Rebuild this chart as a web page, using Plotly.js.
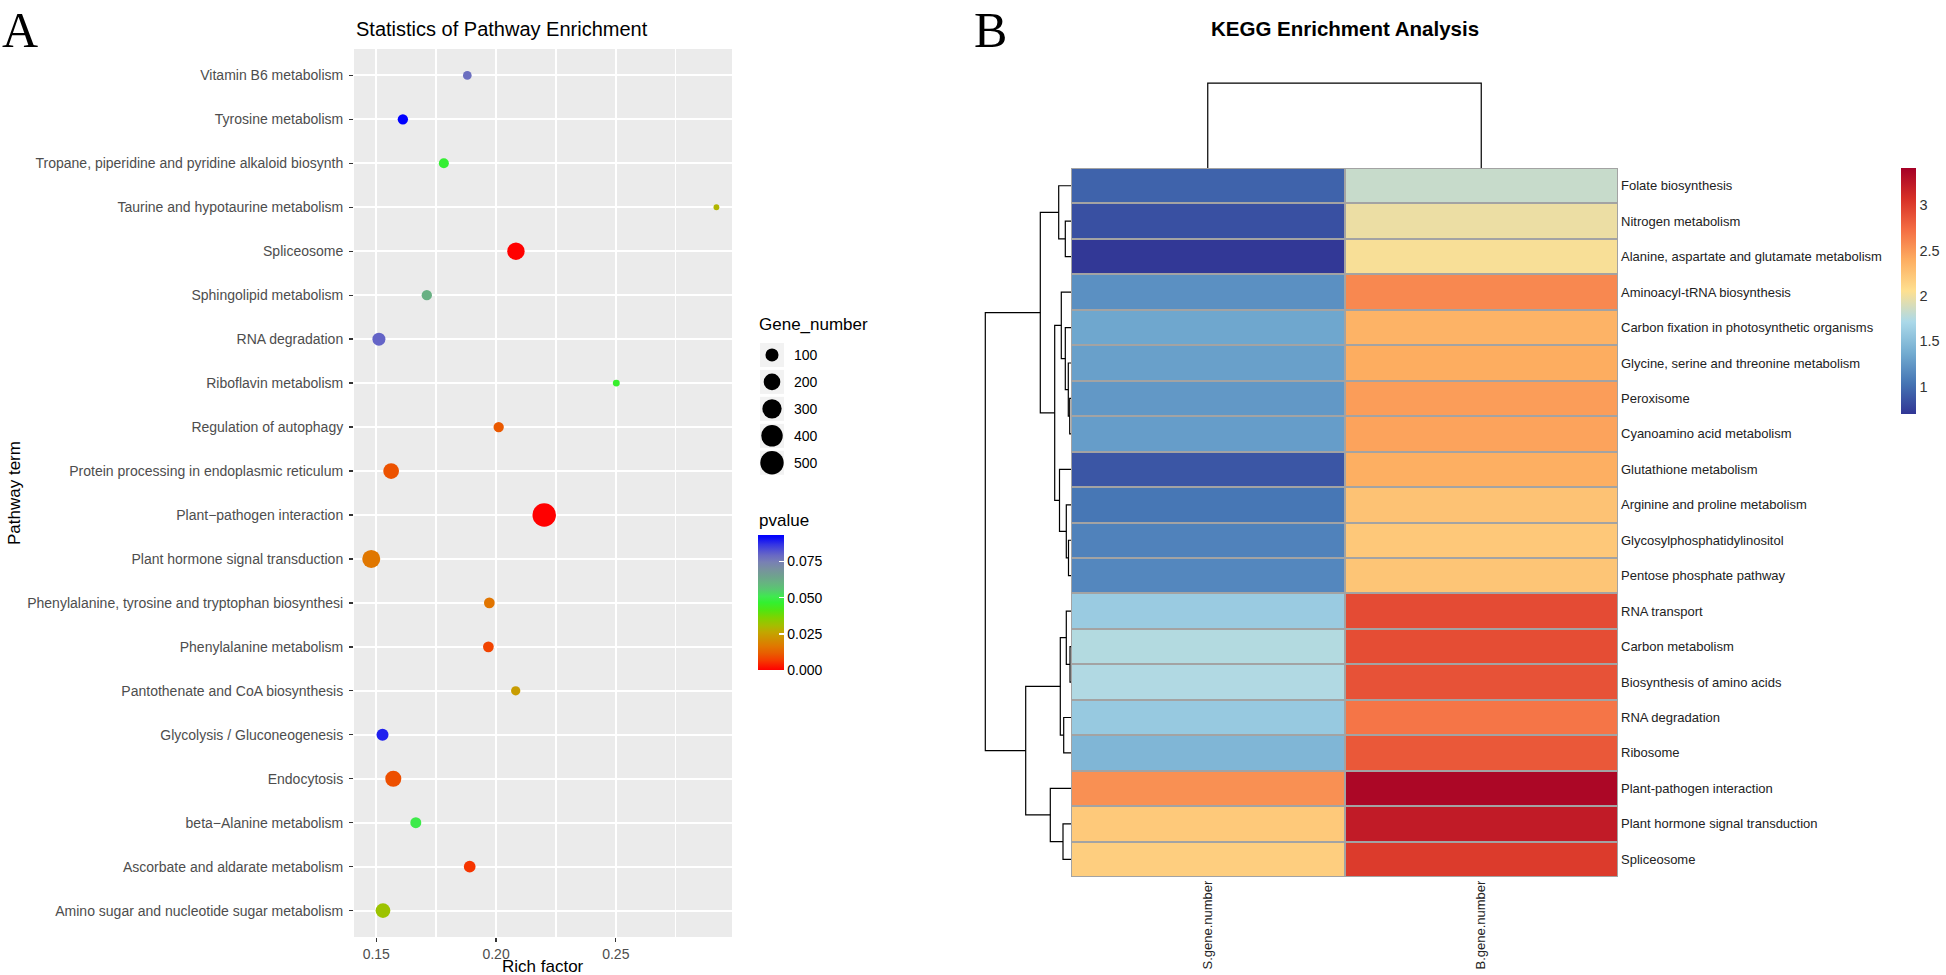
<!DOCTYPE html>
<html>
<head>
<meta charset="utf-8">
<script src="https://cdn.plot.ly/plotly-3.0.1.min.js"></script>
<style>
  html, body { margin: 0; padding: 0; background: #fff; }
  #graph { width: 1946px; height: 975px; }
</style>
</head>
<body>
<div id="graph"></div>
<script>
'use strict';

// ---- panel A: pathway enrichment bubbles (rows top to bottom) ----
var pathTerms = [
  'Vitamin B6 metabolism',
  'Tyrosine metabolism',
  'Tropane, piperidine and pyridine alkaloid biosynth',
  'Taurine and hypotaurine metabolism',
  'Spliceosome',
  'Sphingolipid metabolism',
  'RNA degradation',
  'Riboflavin metabolism',
  'Regulation of autophagy',
  'Protein processing in endoplasmic reticulum',
  'Plant\u2212pathogen interaction',
  'Plant hormone signal transduction',
  'Phenylalanine, tyrosine and tryptophan biosynthesi',
  'Phenylalanine metabolism',
  'Pantothenate and CoA biosynthesis',
  'Glycolysis / Gluconeogenesis',
  'Endocytosis',
  'beta\u2212Alanine metabolism',
  'Ascorbate and aldarate metabolism',
  'Amino sugar and nucleotide sugar metabolism'
];
var richFactor = [0.1880, 0.1611, 0.1782, 0.2920, 0.2083, 0.1711, 0.1511, 0.2502, 0.2011, 0.1562,
                  0.2201, 0.1479, 0.1972, 0.1968, 0.2082, 0.1526, 0.1571, 0.1665, 0.1890, 0.1528];
var geneNumber = [31, 50, 46, 18, 226, 50, 99, 20, 50, 172,
                  505, 252, 56, 56, 37, 78, 181, 60, 73, 142];
var pValue = [0.078, 0.0933, 0.047, 0.029, 0.0001, 0.061, 0.080, 0.046, 0.011, 0.010,
              0.0000, 0.0165, 0.016, 0.008, 0.024, 0.089, 0.0095, 0.050, 0.006, 0.032];
var sizeBreaks = [100, 200, 300, 400, 500];
var pTicks = [0, 0.025, 0.05, 0.075];
var pTickText = ['0.000', '0.025', '0.050', '0.075'];

// ---- panel B: KEGG heatmap (rows top to bottom) ----
var keggTerms = [
  'Folate biosynthesis',
  'Nitrogen metabolism',
  'Alanine, aspartate and glutamate metabolism',
  'Aminoacyl-tRNA biosynthesis',
  'Carbon fixation in photosynthetic organisms',
  'Glycine, serine and threonine metabolism',
  'Peroxisome',
  'Cyanoamino acid metabolism',
  'Glutathione metabolism',
  'Arginine and proline metabolism',
  'Glycosylphosphatidylinositol',
  'Pentose phosphate pathway',
  'RNA transport',
  'Carbon metabolism',
  'Biosynthesis of amino acids',
  'RNA degradation',
  'Ribosome',
  'Plant-pathogen interaction',
  'Plant hormone signal transduction',
  'Spliceosome'
];
var keggCols = ['S.gene.number', 'B.gene.number'];
var sGene = [0.94, 0.84, 0.71, 1.20, 1.34, 1.30, 1.25, 1.28, 0.87, 1.05,
             1.12, 1.15, 1.61, 1.75, 1.74, 1.59, 1.45, 2.55, 2.21, 2.18];
var bGene = [1.83, 1.98, 2.03, 2.59, 2.36, 2.40, 2.48, 2.45, 2.385, 2.26,
             2.22, 2.24, 2.92, 2.91, 2.88, 2.69, 2.85, 3.36, 3.22, 3.01];
var heatMin = 0.70, heatMax = 3.41;
// row tree in hclust style: negative = leaf (1-based row), positive = earlier merge
var rowMerge = [[-7, -8], [-6, 1], [-5, 2], [-4, 3], [-11, -12], [-10, 5], [-9, 6], [4, 7],
                [-2, -3], [-1, 9], [10, 8], [-14, -15], [-13, 12], [-16, -17], [13, 14],
                [-19, -20], [-18, 16], [15, 17], [11, 18]];
var rowHeight = [0.13, 0.27, 0.57, 0.97, 0.25, 0.47, 1.15, 1.63, 0.57, 1.23, 3.07,
                 0.10, 0.47, 0.73, 1.07, 0.80, 2.07, 4.53, 8.57];
var colMerge = [[-1, -2]];
var colHeight = [4.2];
var heatTicks = [1, 1.5, 2, 2.5, 3];

// ---- helpers ----
var W = 1946, H = 975;
function px(x) { return x / W; }
function py(y) { return 1 - y / H; }

var gMin = Math.min.apply(null, geneNumber);
var gMax = Math.max.apply(null, geneNumber);
function dotSize(n) {
  return 5.8 + 17.7 * Math.sqrt(Math.max(0, n - gMin) / (gMax - gMin));
}

function dendro(merge, height) {
  var pos = [], hgt = [], hs = [], ps = [];
  function node(ref) {
    if (ref < 0) return { p: -ref - 1, h: 0 };
    return { p: pos[ref - 1], h: hgt[ref - 1] };
  }
  merge.forEach(function (m, i) {
    var a = node(m[0]), b = node(m[1]), top = height[i];
    hs.push(a.h, top, top, b.h, null);
    ps.push(a.p, a.p, b.p, b.p, null);
    pos.push((a.p + b.p) / 2);
    hgt.push(top);
  });
  return { h: hs, p: ps };
}

var pScale = [
  [0.000, '#FF0000'], [0.070, '#F53A00'], [0.125, '#E85E00'], [0.178, '#E07800'],
  [0.230, '#D09000'], [0.280, '#C2A600'], [0.330, '#A4BE00'], [0.386, '#80D200'],
  [0.440, '#52E410'], [0.500, '#33F030'], [0.545, '#40E850'], [0.596, '#58C870'],
  [0.643, '#66B480'], [0.700, '#70A090'], [0.750, '#7890A0'], [0.800, '#7880B4'],
  [0.850, '#6868C4'], [0.880, '#5656D0'], [0.930, '#3434E4'], [0.980, '#0A0AF8'],
  [1.000, '#0000FF']
];
var rdylbu = ['#313695', '#4575B4', '#74ADD1', '#ABD9E9',
              '#FEE090', '#FDAE61', '#F46D43', '#D73027', '#A50026'];
var heatScale = rdylbu.map(function (c, i) { return [i / (rdylbu.length - 1), c]; });

var rowTree = dendro(rowMerge, rowHeight);
var colTree = dendro(colMerge, colHeight);

var sans = 'Liberation Sans, Arial, Helvetica, sans-serif';

// ---- traces ----
var bubbles = {
  type: 'scatter', mode: 'markers',
  x: richFactor, y: pathTerms, xaxis: 'x', yaxis: 'y',
  marker: {
    size: geneNumber.map(dotSize),
    color: pValue,
    colorscale: pScale,
    line: { width: 0 },
    opacity: 1,
    colorbar: {
      x: px(758), xanchor: 'left', y: py(602.5), yanchor: 'middle',
      thickness: 26, thicknessmode: 'pixels', len: 135, lenmode: 'pixels',
      outlinewidth: 0, xpad: 0, ypad: 0,
      tickvals: pTicks, ticktext: pTickText,
      ticks: 'inside', ticklen: 5, tickcolor: '#ffffff', tickwidth: 1.5,
      tickfont: { size: 14, color: '#000', family: sans }
    }
  },
  hoverinfo: 'skip', showlegend: false
};

var keyBoxes = {
  type: 'scatter', mode: 'markers',
  x: sizeBreaks.map(function () { return 0; }), y: sizeBreaks.map(String),
  xaxis: 'x5', yaxis: 'y5', cliponaxis: false,
  marker: { symbol: 'square', size: 24, color: '#F2F2F2', opacity: 1, line: { width: 0 } },
  hoverinfo: 'skip', showlegend: false
};
var keyDots = {
  type: 'scatter', mode: 'markers',
  x: sizeBreaks.map(function () { return 0; }), y: sizeBreaks.map(String),
  xaxis: 'x5', yaxis: 'y5', cliponaxis: false,
  marker: { size: sizeBreaks.map(dotSize), color: '#000000', opacity: 1, line: { width: 0 } },
  hoverinfo: 'skip', showlegend: false
};

var heat = {
  type: 'heatmap',
  x: keggCols, y: keggTerms,
  z: keggTerms.map(function (t, i) { return [sGene[i], bGene[i]]; }),
  xaxis: 'x2', yaxis: 'y2',
  colorscale: heatScale, zmin: heatMin, zmax: heatMax, xgap: 2, ygap: 2,
  colorbar: {
    x: px(1901), xanchor: 'left', y: py(291), yanchor: 'middle',
    thickness: 15, thicknessmode: 'pixels', len: 246, lenmode: 'pixels',
    outlinewidth: 0, xpad: 0, ypad: 0,
    tickvals: heatTicks, ticks: '',
    tickfont: { size: 14.5, color: '#333', family: sans }
  },
  hoverinfo: 'skip'
};

var rowDendro = {
  type: 'scatter', mode: 'lines', x: rowTree.h, y: rowTree.p,
  xaxis: 'x3', yaxis: 'y3',
  line: { color: '#000', width: 1.2 }, hoverinfo: 'skip', showlegend: false
};
var colDendro = {
  type: 'scatter', mode: 'lines', x: colTree.p, y: colTree.h,
  xaxis: 'x4', yaxis: 'y4',
  line: { color: '#000', width: 1.2 }, hoverinfo: 'skip', showlegend: false
};

var hidden = { visible: false, fixedrange: true };

var annotations = [
  { text: 'A', x: 0, y: 1, xanchor: 'left', yanchor: 'top',
    font: { family: 'Liberation Serif, Times New Roman, serif', size: 50, color: '#000' } },
  { text: 'B', x: px(972), y: 1, xanchor: 'left', yanchor: 'top',
    font: { family: 'Liberation Serif, Times New Roman, serif', size: 50, color: '#000' } },
  { text: 'Statistics of Pathway Enrichment', x: px(354), y: py(29), xanchor: 'left', yanchor: 'middle',
    font: { size: 20, color: '#000' } },
  { text: 'Rich factor', x: px(543), y: py(966), xanchor: 'center', yanchor: 'middle',
    font: { size: 17, color: '#000' } },
  { text: 'Pathway term', x: px(14), y: py(493), xanchor: 'center', yanchor: 'middle', textangle: -90,
    font: { size: 17, color: '#000' } },
  { text: 'Gene_number', x: px(757), y: py(325), xanchor: 'left', yanchor: 'middle',
    font: { size: 17, color: '#000' } },
  { text: 'pvalue', x: px(757), y: py(520), xanchor: 'left', yanchor: 'middle',
    font: { size: 17, color: '#000' } },
  { text: '<b>KEGG Enrichment Analysis</b>', x: px(1344.5), y: py(28), xanchor: 'center', yanchor: 'middle',
    font: { size: 20.5, color: '#000' } }
];
sizeBreaks.forEach(function (b, i) {
  annotations.push({ text: String(b), x: px(792), xref: 'paper', y: i, yref: 'y5',
    xanchor: 'left', yanchor: 'middle', font: { size: 14, color: '#000' } });
});
annotations.forEach(function (a) {
  if (!a.xref) a.xref = 'paper';
  if (!a.yref) a.yref = 'paper';
  a.showarrow = false;
});

var layout = {
  width: W, height: H,
  margin: { l: 0, r: 0, t: 0, b: 0, pad: 0 },
  paper_bgcolor: '#ffffff', plot_bgcolor: '#ffffff',
  font: { family: sans, color: '#000' },
  showlegend: false, hovermode: false,
  xaxis: {
    domain: [px(354), px(732)], anchor: 'y',
    range: [0.1407, 0.2985], tick0: 0, dtick: 0.05, tickformat: '.2f',
    showgrid: true, gridcolor: '#ffffff', gridwidth: 2.2, zeroline: false, showline: false,
    ticks: 'outside', ticklen: 4, tickwidth: 1.3, tickcolor: '#333333',
    tickfont: { size: 14, color: '#4D4D4D' },
    minor: { dtick: 0.025, tick0: 0, showgrid: true, gridcolor: '#ffffff', gridwidth: 1.4, ticks: '' },
    fixedrange: true
  },
  yaxis: {
    domain: [py(937), py(49)], anchor: 'x',
    type: 'category', categoryorder: 'array', categoryarray: pathTerms,
    range: [19.6, -0.6],
    showgrid: true, gridcolor: '#ffffff', gridwidth: 2.2, zeroline: false, showline: false,
    ticks: 'outside', ticklen: 4, tickwidth: 1.3, tickcolor: '#333333',
    ticklabelstandoff: 3,
    tickfont: { size: 14, color: '#4D4D4D' },
    fixedrange: true
  },
  xaxis5: Object.assign({ domain: [px(760), px(784)], anchor: 'y5', range: [-0.5, 0.5] }, hidden),
  yaxis5: Object.assign({ domain: [py(476.2), py(341.5)], anchor: 'x5', type: 'category',
    categoryorder: 'array', categoryarray: sizeBreaks.map(String), range: [4.5, -0.5] }, hidden),
  xaxis2: {
    domain: [px(1071), px(1618)], anchor: 'y2',
    type: 'category', range: [-0.5, 1.5],
    showgrid: false, zeroline: false, showline: false, ticks: '',
    tickangle: -90, tickfont: { size: 13, color: '#222' }, fixedrange: true
  },
  yaxis2: {
    domain: [py(877), py(168)], anchor: 'x2', side: 'right',
    type: 'category', categoryorder: 'array', categoryarray: keggTerms,
    range: [19.5, -0.5],
    showgrid: false, zeroline: false, showline: false, ticks: '',
    ticklabelstandoff: 2,
    tickfont: { size: 13, color: '#222' }, fixedrange: true
  },
  xaxis3: Object.assign({ domain: [px(975), px(1071)], anchor: 'y3', range: [9.6, 0] }, hidden),
  yaxis3: Object.assign({ domain: [py(877), py(168)], anchor: 'x3', range: [19.5, -0.5] }, hidden),
  xaxis4: Object.assign({ domain: [px(1071), px(1618)], anchor: 'y4', range: [-0.5, 1.5] }, hidden),
  yaxis4: Object.assign({ domain: [py(168), py(78)], anchor: 'x4', range: [0, 4.45] }, hidden),
  shapes: [
    { type: 'rect', xref: 'x domain', yref: 'y domain', x0: 0, x1: 1, y0: 0, y1: 1,
      layer: 'below', fillcolor: '#EBEBEB', line: { width: 0 } },
    { type: 'rect', xref: 'x2 domain', yref: 'y2 domain', x0: 0, x1: 1, y0: 0, y1: 1,
      layer: 'below', fillcolor: '#A3A3A3', line: { width: 0 } }
  ],
  annotations: annotations
};

Plotly.newPlot('graph', [bubbles, keyBoxes, keyDots, heat, rowDendro, colDendro], layout,
  { displayModeBar: false, staticPlot: true });
</script>
</body>
</html>
